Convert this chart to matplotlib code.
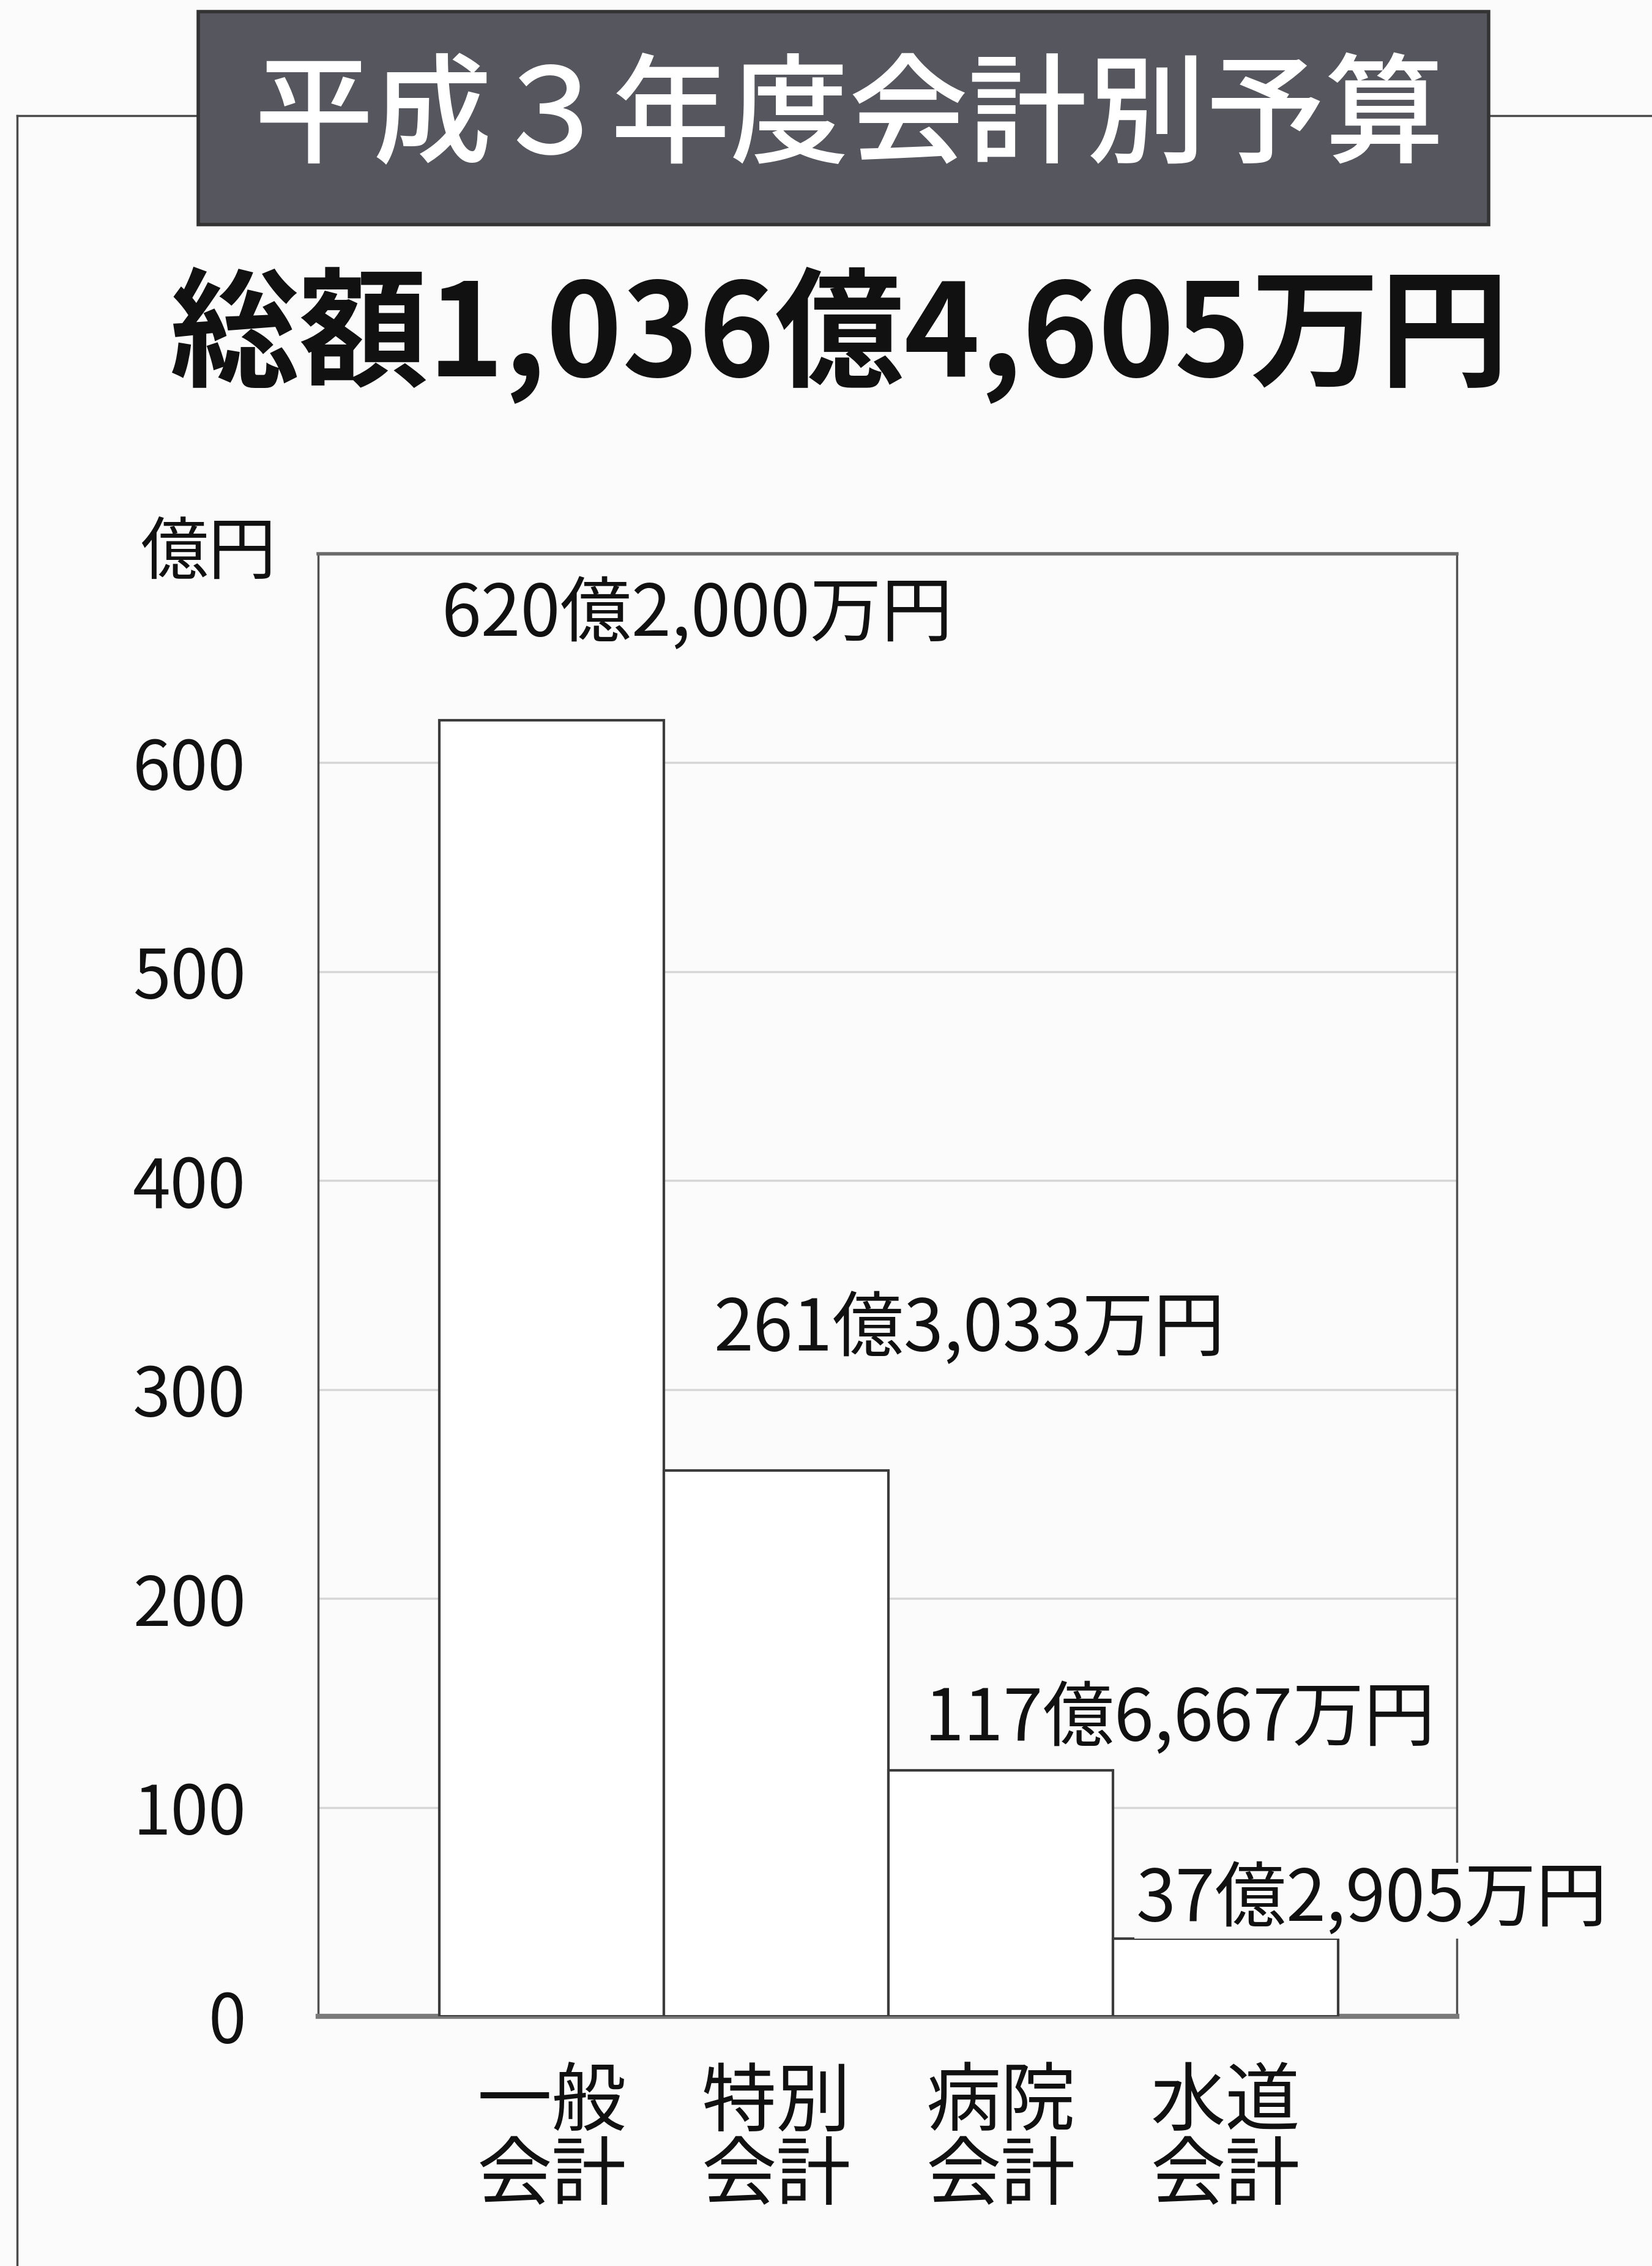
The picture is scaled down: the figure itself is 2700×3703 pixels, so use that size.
import matplotlib
matplotlib.use("Agg")
import matplotlib.pyplot as plt
from matplotlib.patches import Rectangle
from matplotlib.lines import Line2D

plt.rcParams['font.family'] = ['Noto Sans CJK JP', 'DejaVu Sans']

# 会計別予算（億円）
categories = ['一般\n会計', '特別\n会計', '病院\n会計', '水道\n会計']
budgets = [620.2000, 261.3033, 117.6667, 37.2905]
value_labels = ['620億2,000万円', '261億3,033万円', '117億6,667万円', '37億2,905万円']
y_ticks = [0, 100, 200, 300, 400, 500, 600]
title = '平成３年度会計別予算'
total_text = '総額1,036億4,605万円'
unit_text = '億円'

# ラベル位置のずらし量（棒の左端から / 値の上から）
label_dx = [0.01, 0.22, 0.16, 0.10]
label_dy = [50, 67, 24, 18]

bg = '#fbfbfb'
line_col = '#4a4a4a'

fig = plt.figure(figsize=(27, 37.03), dpi=100, facecolor=bg)

# 外枠（上辺と左辺）
fig.add_artist(Line2D([0.0105, 0.0105], [0.949, 0.0], transform=fig.transFigure,
                      color=line_col, lw=2.5))
fig.add_artist(Line2D([0.0105, 1.0], [0.949, 0.949], transform=fig.transFigure,
                      color=line_col, lw=2.5))

# タイトル帯
fig.add_artist(Rectangle((0.12, 0.901), 0.781, 0.0939, transform=fig.transFigure,
                         facecolor='#56565f', edgecolor='#333333', lw=4, zorder=3))
fig.text(0.514, 0.9475, title, color='white', fontsize=140, fontweight='medium',
         ha='center', va='center', zorder=4)

fig.text(0.508, 0.852, total_text, color='#111111', fontsize=152, fontweight='bold',
         ha='center', va='center')

ax = fig.add_axes([0.1926, 0.1102, 0.6893, 0.6454])
ax.set_facecolor(bg)

x = list(range(len(budgets)))
ax.bar(x, budgets, width=1.0, color='white', edgecolor='#3c3c3c', linewidth=3, zorder=3)

for xi, v, lab, dx, dy in zip(x, budgets, value_labels, label_dx, label_dy):
    ax.text(xi - 0.5 + dx, v + dy, lab, fontsize=84, color='#111111', ha='left',
            va='center', zorder=5, clip_on=False,
            bbox=dict(facecolor=bg, edgecolor='none', pad=2))

ax.set_xlim(-1.04, 4.03)
ax.set_ylim(0, 700)
ax.set_yticks(y_ticks)
ax.set_yticklabels([str(t) for t in y_ticks], fontsize=80, color='#111111')
ax.set_xticks(x)
ax.set_xticklabels(categories, fontsize=88, color='#111111', linespacing=0.95)
ax.tick_params(axis='both', length=0)
ax.tick_params(axis='y', pad=85)
ax.tick_params(axis='x', pad=58)

ax.yaxis.grid(True, color='#d6d6d6', lw=2.5, zorder=0)
ax.set_axisbelow(True)

for side in ['left', 'right']:
    ax.spines[side].set_color('#505050')
    ax.spines[side].set_linewidth(2.5)
ax.spines['top'].set_color('#6a6a6a')
ax.spines['top'].set_linewidth(4)
ax.spines['bottom'].set_color('#7a7a7a')
ax.spines['bottom'].set_linewidth(6)

fig.text(0.126, 0.7556, unit_text, fontsize=80, color='#111111', ha='center', va='center')

fig.savefig('out.png', dpi=100, facecolor=bg)
